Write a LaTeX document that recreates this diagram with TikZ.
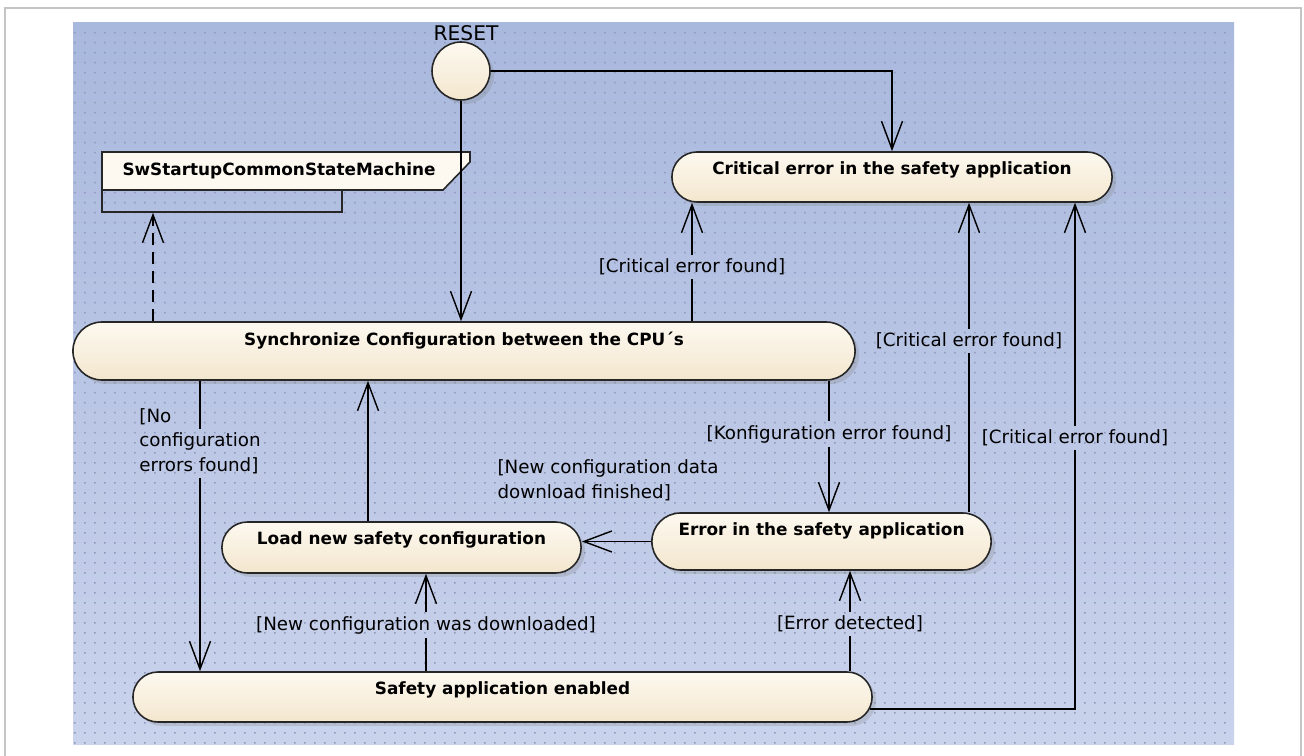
\documentclass[tikz,border=0pt]{standalone}
\usepackage{fontspec}
\setmainfont{DejaVu Sans}
\usetikzlibrary{arrows.meta,shapes.misc,shadows}

\definecolor{bgtop}{RGB}{169,184,221}
\definecolor{bgbot}{RGB}{202,211,236}
\definecolor{dotc}{RGB}{142,152,188}
\definecolor{creamtop}{RGB}{253,249,240}
\definecolor{creambot}{RGB}{243,230,206}
\definecolor{framec}{RGB}{196,196,196}

\begin{document}
\begin{tikzpicture}[x=0.02cm, y=-0.02cm,
  state/.style={rounded rectangle, draw=black!85, line width=0.9pt, top color=creamtop, bottom color=creambot, drop shadow={shadow xshift=0.08cm, shadow yshift=-0.08cm, opacity=0.25}},
  stname/.style={anchor=center, yshift=-0.38cm, font=\bfseries\fontsize{9.6}{12}\selectfont},
  guard/.style={font=\fontsize{10.4}{14}\selectfont, inner sep=2pt, align=center},
  line/.style={line width=0.8pt},
  trans/.style={line width=0.8pt, -{Straight Barb[length=0.56cm, width=0.42cm]}}
]
  \useasboundingbox (0,0) rectangle (1304,756);
  \draw[framec, line width=0.04cm] (5,760) -- (5,8) -- (1301,8) -- (1301,760);
  \shade[top color=bgtop, bottom color=bgbot] (73,23) rectangle (1234,744);
  \foreach \j in {0,...,71}
    \fill[dotc] \foreach \i in {0,...,115} {(74+10*\i,32+10*\j) rectangle ++(1.5,1.5)};

  \node[circle, draw=black!85, line width=0.9pt, minimum size=1.16cm, top color=creamtop, bottom color=creambot, drop shadow={shadow xshift=0.08cm, shadow yshift=-0.08cm, opacity=0.25}] (reset) at (461,71) {};
  \node[font=\fontsize{11.5}{14}\selectfont] (resetlbl) at (466,33) {RESET};

  \filldraw[fill=creamtop, draw=black!85, line width=0.9pt] (102,152) -- (470,152) -- (470,162) -- (443,190) -- (102,190) -- cycle;
  \node[draw=black!85, line width=0.9pt, minimum width=4.8cm, minimum height=0.44cm, inner sep=0pt] (notetab) at (222,201) {};
  \node[font=\bfseries\fontsize{9.6}{12}\selectfont] (note) at (279,171) {SwStartupCommonStateMachine};

  \node[state, minimum width=9.04cm, minimum height=1cm, label={[stname]north:Critical error in the safety application}] (crit) at (892,177) {};
  \node[state, minimum width=15.88cm, minimum height=1.16cm, label={[stname]north:Synchronize Configuration between the CPU´s}] (sync) at (464,351) {};
  \node[state, minimum width=7.02cm, minimum height=1.14cm, label={[stname]north:Error in the safety application}] (errst) at (821.5,541.5) {};
  \node[state, minimum width=7.42cm, minimum height=1.02cm, label={[stname]north:Load new safety configuration}] (load) at (401.5,547.5) {};
  \node[state, minimum width=15.02cm, minimum height=1cm, label={[stname]north:Safety application enabled}] (safety) at (502.5,697) {};

  \node[guard] (gCrit1) at (692,267) {[Critical error found]};
  \node[guard] (gCrit2) at (969,341) {[Critical error found]};
  \node[guard] (gCrit3) at (1075,438) {[Critical error found]};
  \node[guard] (gKonf) at (829,434) {[Konfiguration error found]};
  \node[guard, align=left] (gNoErr) at (200,441) {[No\\configuration\\errors found]};
  \node[guard, align=left] (gFinished) at (608,480) {[New configuration data\\download finished]};
  \node[guard] (gDownload) at (426,625) {[New configuration was downloaded]};
  \node[guard] (gErrDet) at (850,624) {[Error detected]};

  \draw[trans] (reset) -| (crit);
  \draw[trans] (reset) -- (reset |- sync.north);
  \draw[trans, dash pattern=on 0.24cm off 0.14cm] (153,0 |- sync.north) -- (153,0 |- notetab.south);
  \draw[line] (gCrit1 |- sync.north) -- (gCrit1);
  \draw[trans] (gCrit1) -- (gCrit1 |- crit.south);
  \draw[line] (gKonf |- sync.south) -- (gKonf);
  \draw[trans] (gKonf) -- (gKonf |- errst.north);
  \draw[line] (gCrit2 |- errst.north) -- (gCrit2);
  \draw[trans] (gCrit2) -- (gCrit2 |- crit.south);
  \draw[trans] (errst.west) -- (errst.west -| load.east);
  \draw[trans] (368,0 |- load.north) -- (368,0 |- sync.south);
  \draw[line] (gNoErr |- sync.south) -- ([yshift=-0.5cm]gNoErr.north);
  \draw[trans] (gNoErr) -- (gNoErr |- safety.north);
  \draw[line] (gDownload |- safety.north) -- (gDownload);
  \draw[trans] (gDownload) -- (gDownload |- load.south);
  \draw[line] (gErrDet |- safety.north) -- (gErrDet);
  \draw[trans] (gErrDet) -- (gErrDet |- errst.south);
  \draw[line] ([xshift=-0.06cm, yshift=-0.24cm]safety.east) -| (gCrit3);
  \draw[trans] (gCrit3) -- (gCrit3 |- crit.south);
\end{tikzpicture}
\end{document}
